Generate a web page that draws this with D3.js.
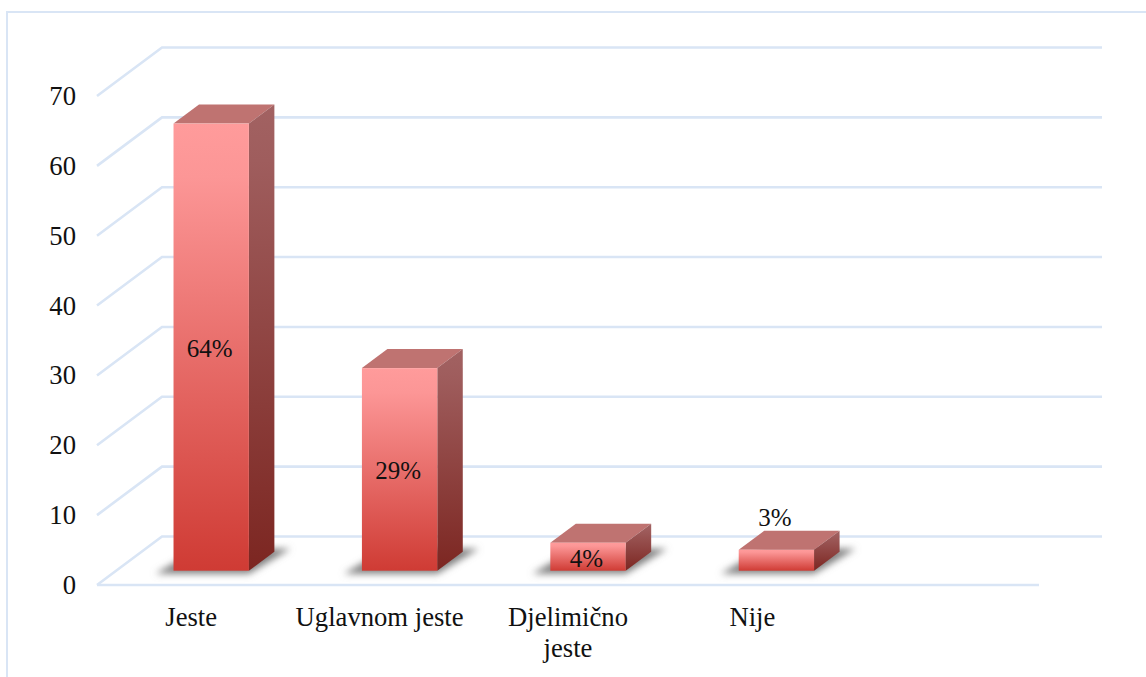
<!DOCTYPE html>
<html>
<head>
<meta charset="utf-8">
<script src="https://cdn.jsdelivr.net/npm/d3@7"></script>
<style>
html,body{margin:0;padding:0;background:#fff;overflow:hidden}
svg{display:block}
text{font-family:"Liberation Serif",serif;fill:#111}
</style>
</head>
<body>
<svg id="c" width="1146" height="677"></svg>
<script>
const categories = ["Jeste", "Uglavnom jeste", "Djelimično jeste", "Nije", ""];
const values = [64, 29, 4, 3];
const valueLabels = ["64%", "29%", "4%", "3%"];
const yTicks = [0, 10, 20, 30, 40, 50, 60, 70];

const W = 1146, H = 677;
const svg = d3.select("#c");
const wallDx = 65, wallDy = -48.5;
const barDx = 25.5, barDy = -19;
const baseDx = 20, baseDy = -14.3;
const gridColor = "#d9e5f5";

const y = d3.scaleLinear().domain([0, 70]).range([585, 96]);
const x = d3.scaleBand().domain(categories).range([97, 1039]).paddingInner(0.6).paddingOuter(0.3);

const defs = svg.append("defs");
function grad(id, stops) {
  const g = defs.append("linearGradient").attr("id", id).attr("x1", 0).attr("y1", 0).attr("x2", 0).attr("y2", 1);
  stops.forEach(s => g.append("stop").attr("offset", s[0]).attr("stop-color", s[1]));
}
grad("front", [[0, "#ff9b9b"], [0.12, "#fc9696"], [1, "#cf3b34"]]);
grad("side", [[0, "#a26262"], [0.12, "#9f5d5d"], [1, "#7c2621"]]);
defs.append("filter").attr("id", "blur").attr("x", "-20%").attr("y", "-50%").attr("width", "140%").attr("height", "200%")
  .append("feGaussianBlur").attr("stdDeviation", 3.6);

// frame
svg.append("path").attr("d", `M7,${H} V12 H${W}`).attr("fill", "none")
  .attr("stroke", gridColor).attr("stroke-width", 2);

// walls
const grid = svg.append("g").attr("fill", "none").attr("stroke", gridColor).attr("stroke-width", 2.6);
grid.selectAll("path.wall").data(yTicks).join("path").attr("class", "wall")
  .attr("d", d => `M${x.range()[0]},${y(d)} l${wallDx},${wallDy} H${x.range()[1] + wallDx - 2}`);
grid.append("path").attr("d", `M${x.range()[0]},${y(0)} H${x.range()[1]}`);

// y axis
const yAxis = d3.axisLeft(y).tickValues(yTicks).tickSize(0).tickPadding(20);
const ya = svg.append("g").attr("transform", `translate(96,0)`).call(yAxis);
ya.select(".domain").remove();
ya.selectAll("text").attr("font-size", 26.67).style("font-family", '"Liberation Serif",serif');

// x labels
const lineH = 31, firstBase = 626;
const nudge = { "Nije": -4, "Djelimično jeste": 0 };
const wrap = { "Djelimično jeste": ["Djelimično", "jeste"] };
const xl = svg.append("g");
categories.filter(c => c).forEach(c => {
  const t = xl.append("text").attr("text-anchor", "middle").attr("font-size", 26.67)
    .attr("x", x(c) + x.bandwidth() / 2 + (nudge[c] || 0)).attr("y", firstBase);
  (wrap[c] || [c]).forEach((s, i) => {
    t.append("tspan").attr("x", x(c) + x.bandwidth() / 2 + (nudge[c] || 0)).attr("dy", i ? lineH : 0).text(s);
  });
});

// bars
const bars = svg.append("g").selectAll("g").data(values).join("g");
const bw = x.bandwidth();
const L = (d, i) => x(categories[i]) + baseDx;
const B = () => y(0) + baseDy;
const T = d => y(d) + baseDy;

bars.append("path")
  .attr("d", (d, i) => {
    const l = L(d, i), b = B();
    return `M${l - 18},${b + 3} H${l + bw} L${l + bw + barDx + 16},${b - 22} H${l + 25} Z`;
  })
  .attr("fill", "#808080").attr("filter", "url(#blur)");
bars.append("path").attr("fill", "#bf7371")
  .attr("d", (d, i) => `M${L(d, i)},${T(d)} l${barDx},${barDy} h${bw} l${-barDx},${-barDy} Z`);
bars.append("path").attr("fill", "url(#side)")
  .attr("d", (d, i) => `M${L(d, i) + bw},${T(d)} l${barDx},${barDy} V${B() + barDy} l${-barDx},${-barDy} Z`);
bars.append("rect").attr("fill", "url(#front)")
  .attr("x", L).attr("y", T).attr("width", bw).attr("height", d => B() - T(d));

// value labels
bars.append("text").attr("text-anchor", "middle").attr("font-size", 25)
  .attr("x", (d, i) => L(d, i) + bw / 2 - 1.5)
  .attr("y", d => d <= 3 ? T(d) + barDy - 4.5 : (T(d) + B()) / 2 + 10)
  .text((d, i) => valueLabels[i]);
</script>
</body>
</html>
